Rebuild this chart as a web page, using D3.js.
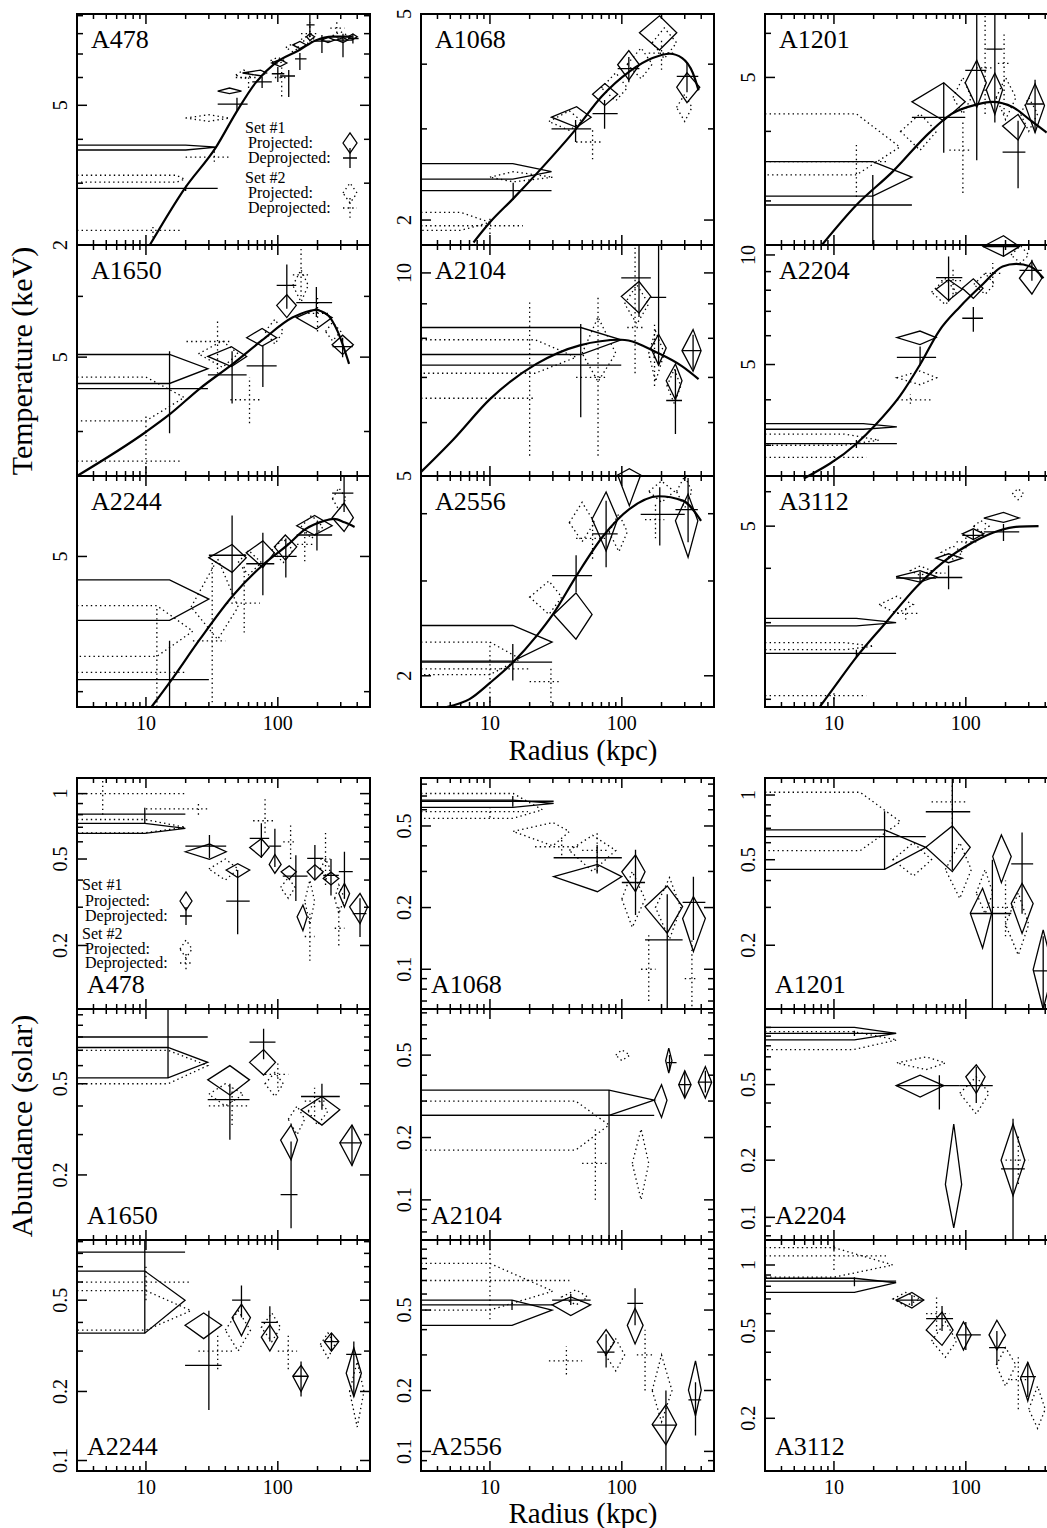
<!DOCTYPE html>
<html><head><meta charset="utf-8">
<script src="https://cdn.jsdelivr.net/npm/d3@7"></script>
<style>
body{margin:0;background:#fff}
svg{display:block}
text{font-family:"Liberation Serif","Times New Roman",serif;fill:#000}
</style>
</head><body>
<svg id="c" width="1047" height="1528"></svg>
<script>
// ---------------- DATA ----------------
const radiusDomain = [3, 500];
const radiusTickLabels = [10, 100];

const tempClusters = ["A478","A1068","A1201","A1650","A2104","A2204","A2244","A2556","A3112"];
const tempRanges = [[2,9.1],[1.79,5],[2.5,6.5],[3.5,7.0],[5,11],[2.47,10.65],[3.9,5.71],[1.75,4.7],[1.92,6.52]];
const tempTickLabels = [[2,5],[2,5],[5],[5],[5,10],[5,10],[5],[2],[5]];

// model curves: [radius, kT]
const tempModel = [
 [[10.7,2.0],[19.7,2.9],[34,3.8],[48,4.75],[68,5.8],[96,6.6],[147,7.2],[193,7.65],[260,7.85],[370,7.85]],
 [[7.5,1.81],[10,1.98],[15,2.2],[24,2.5],[45,3.0],[70,3.46],[114,3.87],[171,4.11],[231,4.19],[287,4.11],[345,3.85],[382,3.56]],
 [[8.1,2.5],[14.8,2.95],[28,3.39],[53,3.98],[78,4.3],[121,4.47],[158,4.52],[228,4.42],[312,4.18],[410,3.98]],
 [[3,3.5],[10.1,4.0],[15.1,4.21],[25.6,4.55],[45.6,4.9],[76,5.26],[129,5.63],[193,5.76],[240,5.67],[283,5.41],[347,4.9]],
 [[3,5.07],[5.3,5.67],[10,6.5],[22.5,7.33],[48,7.81],[99,7.96],[190,7.6],[287,7.27],[382,6.96]],
 [[5.9,2.43],[14.8,3.03],[20.6,3.41],[31.7,4.1],[45,5.0],[63,6.2],[90,7.2],[135,8.32],[190,9.3],[241,9.45],[309,9.3],[388,8.63]],
 [[11,3.9],[15.1,4.06],[25.6,4.36],[45.9,4.69],[77,4.93],[117,5.09],[162,5.23],[221,5.3],[266,5.32],[320,5.29],[382,5.25]],
 [[4.7,1.75],[7,1.81],[10,1.94],[15,2.12],[22.5,2.37],[30,2.6],[45.4,3.07],[72.5,3.64],[114,4.08],[190,4.31],[290,4.23],[399,3.88]],
 [[7.8,1.92],[9.8,2.11],[14.8,2.5],[24.7,3.0],[42,3.62],[67,4.13],[113,4.59],[177,4.88],[254,4.99],[356,5.0]]
];

// each entry: [r, rLow, rHigh, value, valueLow, valueHigh]  (rLow 0 = innermost bin)
const tempProj1 = [
 [[20,0,34.5,3.8,3.73,3.85],[43,35,53,5.49,5.4,5.6],[74,54,82,6.18,6.07,6.3],[104,90,117,6.6,6.45,6.75],[147,130,165,7.43,7.25,7.6],[175,165,190,7.84,7.65,8.0],[240,215,270,7.67,7.55,7.8],[312,280,340,7.67,7.55,7.8],[371,340,400,7.84,7.7,7.98]],
 [[14.9,0,29.3,2.48,2.4,2.57],[45.4,29.3,58.5,3.16,3.02,3.31],[74.3,60,93,3.5,3.33,3.67],[113,93,136,3.99,3.73,4.25],[193,136,261,4.6,4.26,4.96],[312,261,390,3.61,3.37,3.85]],
 [[19.7,0,39,3.31,3.06,3.53],[68,39,99,4.52,4.18,4.89],[121,99,143,4.89,4.42,5.37],[166,143,190,4.75,4.29,5.09],[249,190,283,4.09,3.86,4.29],[335,283,395,4.45,3.98,4.87]],
 [[15.1,0,29.5,4.83,4.62,5.04],[44.5,29.5,58,5.01,4.86,5.16],[76,58,98,5.3,5.17,5.45],[117,98,138,5.84,5.63,6.03],[196,138,258,5.63,5.44,5.78],[310,258,374,5.19,5.04,5.34]],
 [[48.8,0,99,7.96,7.57,8.3],[135,99,166,9.23,8.72,9.71],[190,166,217,7.74,7.3,8.11],[255,217,286,6.92,6.49,7.33],[347,286,399,7.67,7.15,8.24]],
 [[16.7,0,30,3.37,3.32,3.44],[44.9,30,59.5,5.93,5.67,6.18],[74,59.5,94,8.05,7.5,8.55],[114,94,135,8.1,7.6,8.6],[193,135,255,10.55,9.91,11.3],[317,255,377,8.63,7.81,9.6]],
 [[15.1,0,30,4.66,4.5,4.81],[45,30,57.6,4.99,4.87,5.1],[77,57.6,94,5.03,4.91,5.13],[114,94,139,5.08,4.97,5.18],[190,139,258,5.26,5.18,5.35],[318,258,374,5.33,5.21,5.46]],
 [[14.9,0,29.6,2.31,2.13,2.48],[44.9,30.4,59.5,2.6,2.34,2.85],[76,59.5,93,3.91,3.41,4.39],[114,93,139,4.72,4.14,4.85],[318,255,377,3.88,3.32,4.35]],
 [[14.8,0,29.6,3.0,2.95,3.07],[44.9,29.6,59.5,3.83,3.72,3.95],[74,59.5,94,4.22,4.12,4.32],[114,94,137,4.8,4.66,4.93],[193,137,254,5.22,5.1,5.38]]
];
const tempDeproj1 = [
 [[20,0,35,2.9,2.85,2.95],[49,35,59,5.04,4.84,5.25],[76,64,90,5.83,5.6,6.03],[100,90,112,6.15,5.83,6.43],[121,104,135,6.06,5.28,6.3],[147,135,165,6.78,6.3,7.05],[175,165,190,8.47,7.84,9.1],[216,190,250,7.62,7.05,7.93],[312,260,370,7.67,6.85,8.0],[371,340,410,7.75,7.5,8.0]],
 [[15,0,29.3,2.28,2.19,2.36],[44.6,29.3,58.5,3.0,2.83,3.12],[74,60,93,3.21,3.0,3.41],[113,93,136,3.92,3.69,4.13],[312,261,380,3.79,3.53,4.04]],
 [[19.7,0,39,2.95,2.5,3.34],[68,39,99,4.24,3.66,4.89],[121,99,143,5.15,3.55,6.5],[166,143,190,5.62,4.15,6.5],[249,190,283,3.67,3.16,4.18],[335,290,390,4.48,3.98,4.95]],
 [[15.1,0,29.5,4.55,3.98,5.09],[45,29.5,58,4.74,4.35,5.09],[77,58,98,4.87,4.57,5.17],[117,98,138,6.2,5.78,6.6],[196,138,258,5.89,5.64,6.17],[310,260,370,5.16,5.0,5.3]],
 [[48.8,0,99,7.3,6.11,8.4],[135,99,166,9.83,8.6,11],[190,166,217,9.2,7.28,11],[255,217,286,6.47,5.77,7.19],[347,286,399,7.67,7.2,8.1]],
 [[14.8,0,30,3.03,2.95,3.1],[45,30,59.5,5.23,4.97,5.6],[74,59.5,94,8.66,7.44,9.91],[114,94,135,6.7,6.15,7.2],[193,135,255,10.55,9.91,10.65],[317,255,377,9.07,8.5,9.7]],
 [[15.1,0,30,4.08,3.9,4.35],[45,30,57.6,5.01,4.69,5.35],[77,57.6,94,4.94,4.69,5.2],[115,94,139,5.0,4.83,5.15],[198,139,258,5.18,5.05,5.29],[318,258,374,5.55,5.38,5.7]],
 [[14.9,0,29.6,2.12,1.96,2.29],[45,29.6,59.5,3.07,2.86,3.35],[76,59.5,93,3.67,3.18,4.23],[194,139,300,3.99,3.49,4.48],[318,255,377,4.07,3.54,4.66]],
 [[14.8,0,29.6,2.55,2.5,2.6],[45,29.6,59.5,3.8,3.7,3.93],[74,59.5,94,3.81,3.58,4.06],[114,94,137,4.76,4.64,4.9],[193,137,254,4.85,4.62,5.06]]
];
const tempProj2 = [
 [[17,0,19.7,3.08,3.02,3.16],[30,20,43,4.6,4.5,4.7],[55,48,65,6.1,5.95,6.3],[100,88,112,6.7,6.55,6.85],[130,115,145,7.3,7.1,7.5],[170,150,190,7.7,7.5,7.9],[300,260,340,7.9,7.7,8.1]],
 [[6,0,10,1.98,1.91,2.07],[15,10,30,2.42,2.37,2.48],[40,28,50,3.1,2.98,3.25],[90,70,110,3.6,3.4,3.85],[140,110,170,4.0,3.75,4.3],[210,170,260,4.4,4.1,4.7],[300,260,340,3.3,3.1,3.5]],
 [[14.8,0,31.6,3.75,3.34,4.3],[45,32,60,4.0,3.7,4.3],[95,80,110,4.6,4.3,5.0],[200,170,240,4.6,4.2,5.0],[300,260,350,4.3,4.0,4.6]],
 [[10,0,19.5,4.43,4.13,4.71],[38,25,50,5.05,4.85,5.25],[95,80,110,5.4,5.2,5.6],[150,130,170,6.2,5.9,6.5],[260,230,300,5.4,5.25,5.55]],
 [[22,0,45,7.5,7.1,7.96],[66,50,90,7.6,6.9,8.6],[130,105,160,9.0,8.4,9.6],[180,160,210,7.6,6.9,8.2],[250,220,280,6.8,6.4,7.2]],
 [[12,0,22,3.1,3.0,3.22],[45,30,60,4.6,4.4,4.8],[70,55,85,7.9,7.3,8.6],[140,115,165,8.3,7.8,8.9],[260,220,300,10.0,9.5,10.6]],
 [[12.1,0,22.7,4.42,4.24,4.61],[35,22,50,4.6,4.36,4.98],[60,50,75,4.95,4.85,5.05],[110,90,130,5.05,4.95,5.15],[180,150,220,5.25,5.15,5.35],[290,260,330,5.5,5.4,5.6]],
 [[10,0,17,2.15,2.01,2.31],[28,20,35,2.8,2.6,3.0],[50,40,62,3.85,3.55,4.2],[95,80,110,3.7,3.4,4.0],[200,160,250,4.4,4.2,4.6],[300,260,340,4.4,4.1,4.7]],
 [[12,0,20,2.65,2.6,2.7],[30,22,40,3.3,3.15,3.45],[45,38,55,3.95,3.85,4.05],[80,65,95,4.35,4.2,4.5],[130,115,150,5.0,4.85,5.15],[249,225,275,5.93,5.75,6.1]]
];
const tempDeproj2 = [
 [[11.3,0,18,2.2,2.1,2.3],[33,20,43,3.56,3.45,3.7],[60,48,70,6.0,5.6,6.3],[107,95,120,6.0,5.3,6.5],[175,150,200,8.0,7.6,8.6],[280,250,320,8.3,7.8,8.8]],
 [[10,0,17.8,1.95,1.88,2.02],[60,45,70,2.83,2.62,3.0],[200,160,250,4.2,3.9,4.5]],
 [[14.8,0,25,3.53,3.05,3.78],[95,75,110,3.7,3.1,4.2],[140,120,160,5.2,4.3,6.5],[195,175,215,5.3,4.3,5.97]],
 [[10,0,18.1,3.66,3.53,4.21],[34.9,20.3,43.7,5.24,4.76,5.6],[61,43.7,76,4.4,4.1,4.71],[150,130,170,6.4,6.0,7.0],[200,170,240,5.7,5.4,6.0]],
 [[20,0,22,6.52,5.36,9.1],[66,45,75,7.0,5.36,9.2],[126,110,145,8.3,7.1,11],[177,160,200,7.5,6.8,8.4]],
 [[10,0,17.6,2.78,2.7,2.86],[38,30,55,4.0,3.9,4.15],[80,65,95,8.5,7.8,9.2],[160,140,190,8.9,8.4,9.5]],
 [[12.1,0,20.6,4.13,3.9,4.61],[31.8,22.7,40,4.35,3.93,4.98],[55.6,41,73,4.63,4.41,4.93],[160,140,185,5.1,4.96,5.23]],
 [[10,0,20,2.06,1.75,2.31],[29,20,34,1.95,1.75,2.06],[60,45,75,3.6,3.3,3.9],[180,150,210,3.9,3.6,4.2]],
 [[10,0,17.6,2.04,2.0,2.08],[35,28,45,3.15,3.05,3.25],[60,50,70,3.9,3.8,4.0],[100,85,120,4.6,4.45,4.75]]
];

const abundClusters = ["A478","A1068","A1201","A1650","A2104","A2204","A2244","A2556","A3112"];
const abundRanges = [[0.102,1.18],[0.064,0.857],[0.101,1.2],[0.104,1.06],[0.064,0.835],[0.076,1.25],[0.09,0.915],[0.08,1.11],[0.115,1.3]];
const abundTickLabels = [[0.2,0.5,1],[0.1,0.2,0.5],[0.2,0.5,1],[0.2,0.5],[0.1,0.2,0.5],[0.1,0.2,0.5],[0.1,0.2,0.5],[0.1,0.2,0.5],[0.2,0.5,1]];

const abundProj1 = [
 [[9.8,0,19.9,0.692,0.656,0.73],[30.3,19.9,40.6,0.54,0.498,0.586],[49.6,40.6,61.2,0.445,0.411,0.476],[75,61.2,86,0.565,0.51,0.62],[95,86,106,0.472,0.43,0.525],[122,106,138,0.437,0.405,0.465],[155,140,167,0.271,0.234,0.307],[191,167,221,0.437,0.40,0.47],[253,221,290,0.407,0.38,0.435],[320,290,350,0.347,0.301,0.386],[420,350,480,0.301,0.252,0.347]],
 [[14.9,0,30.4,0.645,0.616,0.669],[65.3,30.4,100,0.283,0.239,0.325],[127,100,150,0.299,0.239,0.361],[221,150,289,0.202,0.15,0.255],[349,289,430,0.177,0.122,0.226]],
 [[24.2,0,49.7,0.571,0.451,0.688],[79,49.7,108,0.571,0.44,0.718],[134,108,157,0.282,0.194,0.368],[186,160,221,0.517,0.391,0.652],[267,221,324,0.313,0.227,0.388],[386,324,460,0.154,0.101,0.236]],
 [[14.7,0,29.4,0.62,0.53,0.72],[43.3,29.4,61,0.52,0.447,0.6],[78,61,96,0.62,0.546,0.705],[126,105,141,0.284,0.233,0.33],[216,150,295,0.385,0.33,0.44],[365,295,430,0.276,0.22,0.33]],
 [[80,0,176,0.303,0.256,0.339],[200,176,220,0.303,0.25,0.36],[227,215,240,0.47,0.41,0.54],[300,270,335,0.36,0.31,0.42],[430,380,480,0.37,0.31,0.44]],
 [[14.3,0,29.6,0.93,0.86,1.0],[45,29.6,68,0.494,0.43,0.56],[81,70,93,0.149,0.088,0.31],[120,100,140,0.55,0.45,0.635],[228,185,280,0.2,0.13,0.31]],
 [[9.8,0,19.8,0.5,0.359,0.67],[27.4,19.8,37.5,0.389,0.34,0.44],[53,45,62,0.42,0.35,0.48],[87,75,100,0.345,0.3,0.39],[150,130,170,0.233,0.2,0.26],[255,225,290,0.33,0.3,0.36],[377,330,430,0.24,0.19,0.31]],
 [[14.7,0,29.6,0.5,0.42,0.56],[41,29.6,58,0.53,0.47,0.58],[76,65,88,0.348,0.3,0.4],[126,110,145,0.42,0.34,0.51],[216,170,260,0.136,0.108,0.17],[362,320,400,0.201,0.15,0.28]],
 [[14.3,0,29.6,0.83,0.75,0.87],[39,29.6,48,0.692,0.636,0.75],[66,50,80,0.505,0.43,0.61],[96,85,110,0.48,0.41,0.55],[172,150,200,0.48,0.41,0.56],[295,260,330,0.305,0.24,0.36]]
];
const abundDeproj1 = [
 [[9.8,0,19.9,0.805,0.73,0.86],[30.3,19.9,40.6,0.573,0.504,0.645],[49.6,40.6,61.2,0.32,0.225,0.445],[75,61.2,86,0.622,0.505,0.73],[95,86,106,0.573,0.46,0.69],[137,109,168,0.417,0.32,0.52],[191,167,221,0.503,0.40,0.58],[253,221,290,0.42,0.34,0.5],[320,290,370,0.437,0.33,0.54],[420,370,470,0.2805,0.219,0.33]],
 [[14.9,0,30.4,0.66,0.62,0.7],[65,30.4,100,0.35,0.293,0.404],[127,100,150,0.265,0.184,0.383],[221,150,289,0.139,0.064,0.232],[349,289,430,0.212,0.139,0.283]],
 [[24.2,0,49.7,0.64,0.451,0.84],[79,49.7,108,0.836,0.447,1.2],[159,108,221,0.281,0.101,0.5],[267,221,324,0.478,0.28,0.67],[386,324,460,0.152,0.101,0.22]],
 [[14.7,0,29.4,0.8,0.53,1.06],[43.3,29.4,61,0.426,0.285,0.5],[78,61,96,0.76,0.64,0.87],[126,105,141,0.164,0.117,0.28],[216,150,295,0.44,0.385,0.5],[365,295,430,0.276,0.22,0.33]],
 [[80,0,176,0.256,0.064,0.339],[230,220,260,0.46,0.42,0.5],[300,270,335,0.36,0.31,0.42],[430,380,480,0.37,0.33,0.42]],
 [[14.3,0,29.6,0.93,0.9,0.96],[63,29.6,90,0.494,0.37,0.56],[120,90,160,0.494,0.4,0.62],[228,185,280,0.18,0.076,0.33]],
 [[9.8,0,19.8,0.81,0.359,0.915],[30,19.8,37.5,0.26,0.166,0.45],[53,45,62,0.5,0.42,0.58],[87,75,100,0.4,0.33,0.47],[150,130,170,0.233,0.19,0.27],[255,225,290,0.33,0.3,0.36],[377,330,430,0.29,0.19,0.33]],
 [[14.7,0,29.6,0.53,0.5,0.56],[41,29.6,58,0.56,0.53,0.6],[76,65,88,0.31,0.26,0.38],[126,110,145,0.54,0.42,0.64],[216,170,260,0.135,0.08,0.2],[362,320,400,0.18,0.12,0.22]],
 [[14.3,0,29.6,0.845,0.8,0.88],[39,29.6,48,0.692,0.65,0.73],[66,50,80,0.57,0.5,0.65],[100,85,130,0.48,0.41,0.55],[172,150,200,0.42,0.35,0.5],[295,260,340,0.31,0.25,0.36]]
];
const abundProj2 = [
 [[9.8,0,19.9,0.7,0.66,0.76],[40,30,50,0.45,0.4,0.5],[120,105,135,0.37,0.33,0.41],[175,160,190,0.32,0.25,0.4],[230,210,250,0.45,0.4,0.5],[290,270,320,0.33,0.28,0.38]],
 [[15,0,25,0.6,0.545,0.72],[30,15,40,0.47,0.4,0.52],[60,40,90,0.38,0.3,0.45],[120,100,150,0.22,0.16,0.3],[230,180,280,0.2,0.14,0.28]],
 [[15.8,0,32,0.75,0.551,1.03],[40,28,55,0.5,0.42,0.6],[90,70,110,0.45,0.33,0.6],[140,120,160,0.35,0.28,0.45],[250,200,300,0.25,0.18,0.35]],
 [[14.7,0,29.4,0.6,0.5,0.7],[40,30,55,0.45,0.4,0.5],[95,80,110,0.5,0.44,0.56],[140,120,160,0.35,0.3,0.4],[200,170,240,0.38,0.33,0.43]],
 [[44.7,0,80,0.23,0.174,0.3],[140,120,160,0.15,0.1,0.22],[100,90,115,0.5,0.47,0.53]],
 [[14,0,30,0.86,0.764,0.95],[50,30,70,0.65,0.6,0.7],[120,90,150,0.45,0.35,0.55]],
 [[10,0,22,0.45,0.37,0.55],[50,40,62,0.37,0.3,0.45],[90,75,105,0.38,0.33,0.44],[240,210,270,0.32,0.28,0.36],[400,350,450,0.2,0.14,0.27]],
 [[10,0,30,0.62,0.5,0.85],[45,35,55,0.58,0.53,0.63],[90,75,105,0.3,0.25,0.36],[200,170,240,0.2,0.14,0.3]],
 [[10,0,28,1.0,0.88,1.2],[35,28,45,0.7,0.65,0.75],[70,55,85,0.45,0.38,0.55],[200,170,240,0.35,0.28,0.42],[350,300,400,0.22,0.18,0.28]]
];
const abundDeproj2 = [
 [[4.7,0,19.9,1.0,0.8,1.18],[25,10,30,0.85,0.8,0.9],[80,65,95,0.75,0.66,0.95],[125,110,140,0.6,0.5,0.72],[175,160,190,0.22,0.17,0.28],[230,210,250,0.5,0.38,0.66],[290,270,320,0.24,0.2,0.3]],
 [[10,0,19.4,0.587,0.55,0.62],[35,22,48,0.396,0.36,0.43],[65,50,80,0.38,0.3,0.47],[160,140,180,0.1,0.07,0.15],[340,300,380,0.09,0.066,0.14]],
 [[79,55,100,0.93,0.7,1.15],[200,160,240,0.3,0.22,0.4]],
 [[45,30,60,0.4,0.33,0.48],[100,80,120,0.55,0.48,0.62],[190,160,230,0.42,0.36,0.48]],
 [[63,50,80,0.15,0.1,0.22]],
 [[250,200,300,0.2,0.15,0.27]],
 [[10,0,22,0.6,0.5,0.7],[35,25,45,0.3,0.25,0.36],[120,100,140,0.3,0.25,0.36]],
 [[10,0,40,0.7,0.45,1.0],[38,28,50,0.28,0.24,0.33],[150,130,170,0.3,0.2,0.4]],
 [[10,0,25,1.1,0.95,1.25],[60,50,75,0.6,0.5,0.72],[250,220,290,0.3,0.22,0.38]]
];

// legend text
const legendLines = ["Set #1", "Projected:", "Deprojected:", "Set #2", "Projected:", "Deprojected:"];

// ---------------- LAYOUT ----------------
const colLefts = [77, 421, 765];
const W = 293, H = 231;
const tempTop = 14, abundTop = 778;
const DOT = "1.4,3.2";

const svg = d3.select("#c");

function diamondPath(d, x, y, x0) {
  const [r, rlo, rhi, v, vlo, vhi] = d;
  if (rlo <= 0) return `M${x0},${y(vhi)}L${x(r)},${y(vhi)}L${x(rhi)},${y(v)}L${x(r)},${y(vlo)}L${x0},${y(vlo)}`;
  return `M${x(rlo)},${y(v)}L${x(r)},${y(vhi)}L${x(rhi)},${y(v)}L${x(r)},${y(vlo)}Z`;
}
function crossPath(d, x, y, x0) {
  const [r, rlo, rhi, v, vlo, vhi] = d;
  const xl = rlo <= 0 ? x0 : x(rlo);
  return `M${xl},${y(v)}L${x(rhi)},${y(v)}M${x(r)},${y(vlo)}L${x(r)},${y(vhi)}`;
}
function near(a, b) { return Math.abs(a - b) / b < 1e-6; }

function drawGroup(top, names, ranges, tickLabels, models, p1, d1, p2, d2, isTemp) {
  names.forEach((name, i) => {
    const col = i % 3, row = Math.floor(i / 3);
    const left = colLefts[col], ptop = top + row * H, pbot = ptop + H;
    const x = d3.scaleLog().domain(radiusDomain).range([left, left + W]);
    const y = d3.scaleLog().domain(ranges[i]).range([pbot, ptop]);
    const g = svg.append("g");

    g.selectAll(".p2").data(p2[i]).join("path")
      .attr("d", d => diamondPath(d, x, y, left)).attr("fill", "none")
      .attr("stroke", "#000").attr("stroke-width", 1.3).attr("stroke-dasharray", DOT);
    g.selectAll(".d2").data(d2[i]).join("path")
      .attr("d", d => crossPath(d, x, y, left)).attr("fill", "none")
      .attr("stroke", "#000").attr("stroke-width", 1.3).attr("stroke-dasharray", DOT);
    g.selectAll(".p1").data(p1[i]).join("path")
      .attr("d", d => diamondPath(d, x, y, left)).attr("fill", "none")
      .attr("stroke", "#000").attr("stroke-width", 1.3);
    g.selectAll(".d1").data(d1[i]).join("path")
      .attr("d", d => crossPath(d, x, y, left)).attr("fill", "none")
      .attr("stroke", "#000").attr("stroke-width", 1.3);

    if (models) {
      g.append("path").datum(models[i])
        .attr("d", d3.line().x(d => x(d[0])).y(d => y(d[1])).curve(d3.curveMonotoneX))
        .attr("fill", "none").attr("stroke", "#000").attr("stroke-width", 2.2);
    }

    g.append("rect").attr("x", left).attr("y", ptop).attr("width", W).attr("height", H)
      .attr("fill", "none").attr("stroke", "#000").attr("stroke-width", 2);

    const xt = [];
    [1, 10, 100].forEach(dec => { for (let m = 1; m <= 9; m++) { const v = m * dec; if (v >= radiusDomain[0] && v <= radiusDomain[1]) xt.push(v); } });
    xt.forEach(v => {
      const major = radiusTickLabels.some(t => near(v, t));
      const len = major ? 10 : 5, px = x(v);
      g.append("line").attr("x1", px).attr("x2", px).attr("y1", pbot).attr("y2", pbot - len).attr("stroke", "#000").attr("stroke-width", 1.5);
      g.append("line").attr("x1", px).attr("x2", px).attr("y1", ptop).attr("y2", ptop + len).attr("stroke", "#000").attr("stroke-width", 1.5);
    });
    if (row === 2) {
      radiusTickLabels.forEach(v => {
        g.append("text").attr("x", x(v)).attr("y", pbot + 23).attr("text-anchor", "middle")
          .attr("font-size", 20).text(v);
      });
    }

    const [y0, y1] = ranges[i];
    const yt = [];
    for (let k = Math.floor(Math.log10(y0)); k <= Math.ceil(Math.log10(y1)); k++) {
      for (let m = 1; m <= 9; m++) { const v = +(m * Math.pow(10, k)).toPrecision(6); if (v >= y0 && v <= y1) yt.push(v); }
    }
    yt.forEach(v => {
      const major = tickLabels[i].some(t => near(v, t));
      const len = major ? 10 : 6, py = y(v);
      g.append("line").attr("x1", left).attr("x2", left + len).attr("y1", py).attr("y2", py).attr("stroke", "#000").attr("stroke-width", 1.5);
      g.append("line").attr("x1", left + W).attr("x2", left + W - len).attr("y1", py).attr("y2", py).attr("stroke", "#000").attr("stroke-width", 1.5);
    });
    tickLabels[i].forEach(v => {
      g.append("text").attr("transform", `translate(${left - 10},${y(v)}) rotate(-90)`)
        .attr("text-anchor", "middle").attr("font-size", 20).text(String(v));
    });

    if (isTemp) {
      g.append("text").attr("x", left + 14).attr("y", ptop + 34).attr("font-size", 26).text(name);
    } else {
      g.append("text").attr("x", left + 10).attr("y", pbot - 16).attr("font-size", 26).text(name);
    }
  });
}

drawGroup(tempTop, tempClusters, tempRanges, tempTickLabels, tempModel, tempProj1, tempDeproj1, tempProj2, tempDeproj2, true);
drawGroup(abundTop, abundClusters, abundRanges, abundTickLabels, null, abundProj1, abundDeproj1, abundProj2, abundDeproj2, false);

function legend(tx, sx, ys, fs, hw, hh) {
  const L = svg.append("g");
  const indent = [0, 3, 3, 0, 3, 3];
  legendLines.forEach((t, k) => L.append("text").attr("x", tx + indent[k]).attr("y", ys[k]).attr("font-size", fs).text(t));
  const sym = (k, type, dotted) => {
    const cy = ys[k] - 5;
    const p = type === "d"
      ? `M${sx - hw},${cy}L${sx},${cy - hh}L${sx + hw},${cy}L${sx},${cy + hh}Z`
      : `M${sx - hw},${cy}L${sx + hw},${cy}M${sx},${cy - hh}L${sx},${cy + hh}`;
    const e = L.append("path").attr("d", p).attr("fill", "none").attr("stroke", "#000").attr("stroke-width", 1.3);
    if (dotted) e.attr("stroke-dasharray", DOT);
  };
  sym(1, "d", false); sym(2, "c", false); sym(4, "d", true); sym(5, "c", true);
}
legend(245, 350, [133, 148, 163, 183, 198, 213], 16, 7, 10);
legend(82, 186, [890, 906, 921, 939, 954, 968], 16, 6, 9);

svg.append("text").attr("transform", "translate(32,361) rotate(-90)").attr("text-anchor", "middle").attr("font-size", 30).text("Temperature (keV)");
svg.append("text").attr("transform", "translate(32,1126) rotate(-90)").attr("text-anchor", "middle").attr("font-size", 30).text("Abundance (solar)");
svg.append("text").attr("x", 583).attr("y", 760).attr("text-anchor", "middle").attr("font-size", 29).text("Radius (kpc)");
svg.append("text").attr("x", 583).attr("y", 1523).attr("text-anchor", "middle").attr("font-size", 29).text("Radius (kpc)");
</script>
</body></html>
